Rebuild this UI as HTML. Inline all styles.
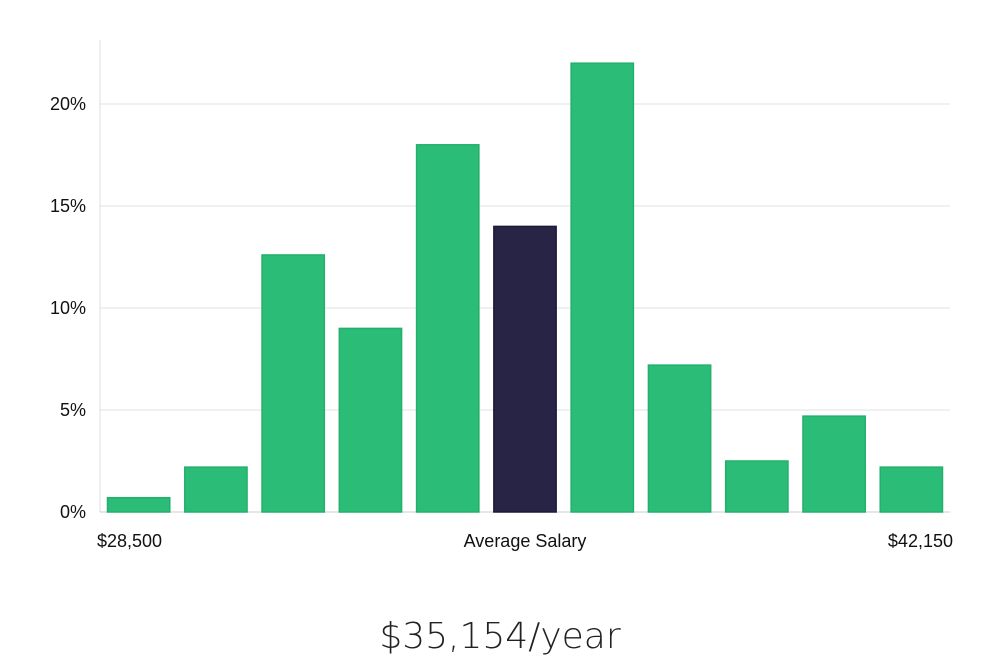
<!DOCTYPE html>
<html><head><meta charset="utf-8"><style>
body{margin:0;background:#fff;width:1000px;height:660px;overflow:hidden;font-family:"Liberation Sans","DejaVu Sans",sans-serif}
</style></head><body>
<svg id="chart" width="1000" height="660" xmlns="http://www.w3.org/2000/svg">
<g id="grid"></g><g id="bars"></g><g id="labels"></g>
<text x="500" y="648" text-anchor="middle" font-size="36" fill="#222" font-family="'DejaVu Sans','Liberation Sans',sans-serif" font-weight="300">$35,154/year</text>
</svg>
<script>
const categories=["b1","b2","b3","b4","b5","b6","b7","b8","b9","b10","b11"];
const values=[0.7,2.2,12.6,9.0,18.0,14.0,22.0,7.2,2.5,4.7,2.2];
const highlightIndex=5;
const yTicks=[0,5,10,15,20];
const xLabels=["$28,500","Average Salary","$42,150"];
const NS="http://www.w3.org/2000/svg";
const x0=100,x1=950,y0=512,pxPer=20.4;
const y=v=>y0-v*pxPer;
const slot=(x1-x0)/categories.length;
function mk(t,a,p){const e=document.createElementNS(NS,t);for(const k in a)e.setAttribute(k,a[k]);p.appendChild(e);return e;}
const g=document.getElementById('grid');
const ax=mk('line',{x1:x0,x2:x0,y1:40,y2:y0,stroke:'#ddd'},g);


yTicks.forEach(t=>{
 const l=mk('line',{x1:x0,x2:x1,y1:y(t),y2:y(t),stroke:t===0?'#ccc':'#e0e0e0'},g);
 
 
 const tx=mk('text',{x:86,y:y(t)+6,'text-anchor':'end','font-size':18,fill:'#111'},g);
 tx.textContent=t+'%';
 
 
});
const b=document.getElementById('bars');
values.forEach((v,i)=>{
 const bx=x0+i*slot+7.5;
 const hl=i===highlightIndex;
 const r=mk('rect',{x:bx,y:y(v),width:slot-15,height:v*pxPer,fill:hl?'#272446':'#2bbd77',stroke:hl?'#1b1838':'#22b06c','stroke-width':1.5},b);
 
 
});
const lb=document.getElementById('labels');
const pos=[[97,'start'],[525,'middle'],[953,'end']];
xLabels.forEach((s,i)=>{
 const t=mk('text',{x:pos[i][0],y:547,'text-anchor':pos[i][1],'font-size':18,fill:'#111'},lb);
 t.textContent=s;
 
 
});
</script>
</body></html>
